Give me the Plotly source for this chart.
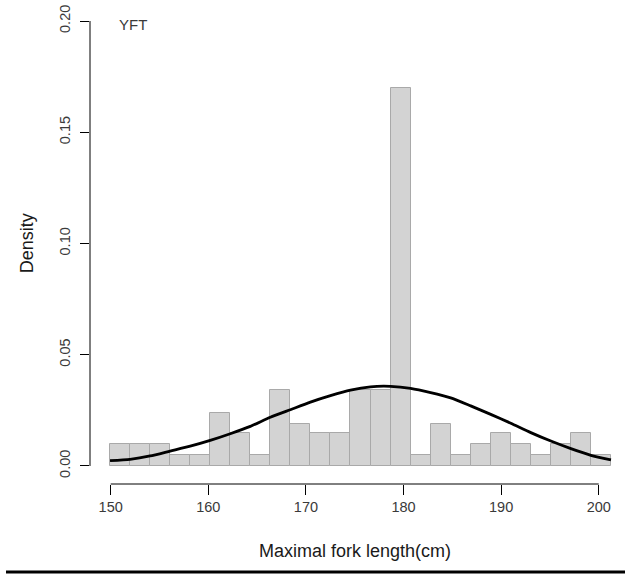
import plotly.graph_objects as go

# Histogram of maximal fork length (2 cm bins), density scale
bin_left = [150, 152, 154, 156, 158, 160, 162, 164, 166, 168, 170, 172, 174,
            176, 178, 180, 182, 184, 186, 188, 190, 192, 194, 196, 198]
bin_width = 2
density = [0.010, 0.010, 0.010, 0.005, 0.005, 0.024, 0.015, 0.005, 0.034,
           0.019, 0.015, 0.015, 0.034, 0.034, 0.170, 0.005, 0.019, 0.005,
           0.010, 0.015, 0.010, 0.005, 0.010, 0.015, 0.005]

# Fitted density curve
curve_x = [150, 152, 154, 156, 158, 160, 162, 164, 166, 168, 170, 172, 174,
           176, 178, 180, 182, 184, 186, 188, 190, 192, 194, 196, 198, 200]
curve_y = [0.0024, 0.0030, 0.0045, 0.0067, 0.0089, 0.0115, 0.0145, 0.0178,
           0.0219, 0.0253, 0.0287, 0.0316, 0.0341, 0.0356, 0.0358, 0.0349,
           0.0330, 0.0306, 0.0270, 0.0232, 0.0192, 0.0150, 0.0112, 0.0078,
           0.0048, 0.0027]

x_ticks = [150, 160, 170, 180, 190, 200]
y_ticks = [0.00, 0.05, 0.10, 0.15, 0.20]
y_tick_text = ["0.00", "0.05", "0.10", "0.15", "0.20"]

FONT = "Liberation Sans, Arial, sans-serif"
TICK_COLOR = "#3a3a3a"

bin_centers = [b + bin_width / 2 for b in bin_left]

fig = go.Figure()
fig.add_trace(go.Bar(
    x=bin_centers, y=density, width=[bin_width] * len(bin_left),
    base=0, xaxis="x2", yaxis="y",
    marker=dict(color="#d3d3d3", line=dict(color="#a9a9a9", width=1)),
    hoverinfo="skip", showlegend=False,
))
fig.add_trace(go.Scatter(
    x=curve_x, y=curve_y, xaxis="x2", yaxis="y", mode="lines",
    line=dict(color="black", width=2.8, shape="spline", smoothing=0.6),
    hoverinfo="skip", showlegend=False,
))

fig.update_layout(
    width=625, height=574,
    margin=dict(l=90, r=0, t=3, b=90),
    paper_bgcolor="white", plot_bgcolor="white",
    font=dict(family=FONT, color=TICK_COLOR),
    bargap=0,
    xaxis=dict(
        range=[147.88, 202.69], tickvals=x_ticks,
        ticktext=[str(v) for v in x_ticks],
        ticks="outside", ticklen=10, tickwidth=1, tickcolor="black",
        showgrid=False, zeroline=False, showline=False,
        tickfont=dict(size=14.5, color=TICK_COLOR, family=FONT),
        ticklabelstandoff=0,
    ),
    xaxis2=dict(
        range=[148.0, 201.4], overlaying="x", visible=False,
        showgrid=False, zeroline=False,
    ),
    yaxis=dict(
        range=[-0.0081, 0.2081], tickvals=y_ticks, ticktext=y_tick_text,
        ticks="outside", ticklen=9, tickwidth=1, tickcolor="black",
        tickangle=-90, showgrid=False, zeroline=False, showline=False,
        tickfont=dict(size=14.5, color=TICK_COLOR, family=FONT),
        ticklabelstandoff=4,
    ),
)

# Axis lines spanning only the labelled range
fig.add_shape(type="line", xref="x", yref="paper",
              x0=x_ticks[0], x1=x_ticks[-1], y0=0, y1=0,
              line=dict(color="black", width=1))
fig.add_shape(type="line", xref="paper", yref="y",
              x0=0, x1=0, y0=y_ticks[0], y1=y_ticks[-1],
              line=dict(color="black", width=1))

# Rule under the figure
fig.add_shape(type="line", xref="paper", yref="paper",
              x0=-0.157, x1=1.0, y0=-0.183, y1=-0.183,
              line=dict(color="black", width=3))

# Axis titles and panel label
fig.add_annotation(text="Maximal fork length(cm)", xref="x", yref="paper",
                   x=175, y=-0.14, showarrow=False,
                   xanchor="center", yanchor="middle",
                   font=dict(size=18, color="#1a1a1a", family=FONT))
fig.add_annotation(text="Density", xref="paper", yref="y",
                   x=-0.118, y=0.10, textangle=-90, showarrow=False,
                   xanchor="center", yanchor="middle",
                   font=dict(size=18, color="#1a1a1a", family=FONT))
fig.add_annotation(text="YFT", xref="x2", yref="y",
                   x=152.3, y=0.1985, showarrow=False,
                   xanchor="center", yanchor="middle",
                   font=dict(size=15, color=TICK_COLOR, family=FONT))

fig.write_html("out.html")
